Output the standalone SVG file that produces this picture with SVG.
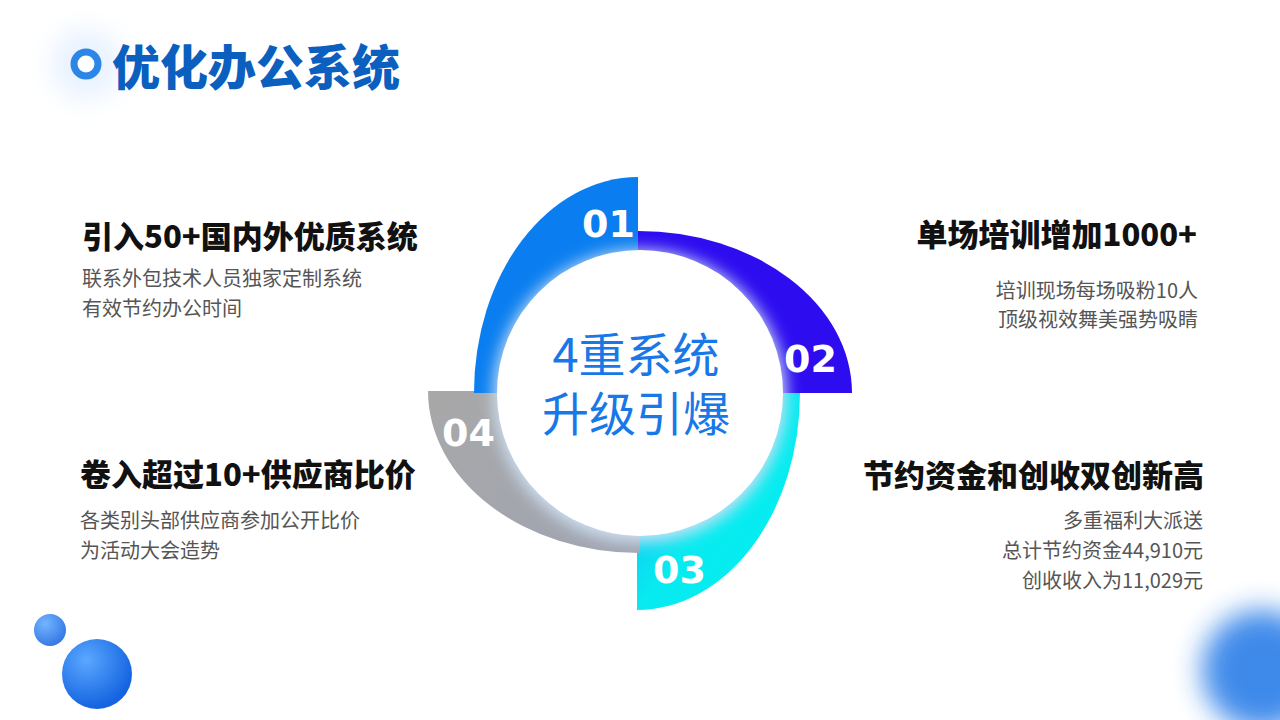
<svg xmlns="http://www.w3.org/2000/svg" width="1280" height="720" viewBox="0 0 1280 720">
<defs>
<style>
.h{font-family:"Noto Sans CJK SC","Noto Sans",sans-serif;font-weight:900;font-size:31px;fill:#111}
.d{font-family:"Noto Sans CJK SC","Noto Sans",sans-serif;font-size:20px;fill:#555}
.n{font-family:"DejaVu Sans","Liberation Sans",sans-serif;font-weight:700;font-size:38px;fill:#fff}
</style>
<linearGradient id="g3" x1="0" y1="0" x2="1" y2="1"><stop offset="0" stop-color="#1aa8f0"/><stop offset="0.5" stop-color="#08eaf0"/><stop offset="1" stop-color="#00f2f0"/></linearGradient>
<linearGradient id="g4" x1="0" y1="0" x2="1" y2="1"><stop offset="0" stop-color="#a8a8a8"/><stop offset="1" stop-color="#a0a4b0"/></linearGradient>
<radialGradient id="bl" cx="0.35" cy="0.3" r="0.7"><stop offset="0" stop-color="#5aa8ff"/><stop offset="1" stop-color="#1463e0"/></radialGradient>
<filter id="sh" x="-30%" y="-30%" width="160%" height="160%"><feGaussianBlur stdDeviation="8"/></filter>
<filter id="blur" x="-50%" y="-50%" width="200%" height="200%"><feGaussianBlur stdDeviation="14"/></filter>
</defs>
<rect width="1280" height="720" fill="#fff"/>
<g id="title">
<circle cx="86" cy="64" r="34" fill="#e6f1ff" filter="url(#blur)"/>
<circle cx="86" cy="64" r="12" fill="#fff" stroke="#2b86e8" stroke-width="7"/>
<text x="112" y="85" font-family="'Noto Sans CJK SC',sans-serif" font-weight="900" font-size="48" fill="#0b5fbf">优化办公系统</text>
</g>
<g id="deco">
<circle cx="50" cy="630" r="16" fill="url(#bl)" opacity="0.85"/>
<circle cx="97" cy="674" r="35" fill="url(#bl)"/>
<circle cx="1262" cy="670" r="60" fill="#2a7ee8" filter="url(#blur)" opacity="0.9"/>
</g>
<g id="ring">
<path id="s02" d="M638,393 L638,231 A214,162 0 0 1 852,393 Z" fill="#2d0cf0"/>
<path id="s03" d="M637,393 L800,393 A163,217 0 0 1 637,610 Z" fill="url(#g3)"/>
<path id="s04" d="M640,391 L640,553 A212,162 0 0 1 428,391 Z" fill="url(#g4)"/>
<path id="s01" d="M638,393 L474,393 A164,216 0 0 1 638,177 Z" fill="#0a7ef0"/>
<circle cx="640" cy="396" r="146" fill="#cfe2f5" filter="url(#sh)"/>
<circle cx="640" cy="393" r="143" fill="#fff"/>
<text class="n" x="582" y="237">01</text>
<text class="n" x="784" y="372">02</text>
<text class="n" x="653" y="583">03</text>
<text class="n" x="442" y="446">04</text>
<text x="636" y="372" text-anchor="middle" font-family="'Noto Sans CJK SC',sans-serif" font-size="47" fill="#1878e8">4重系统</text>
<text x="636" y="431" text-anchor="middle" font-family="'Noto Sans CJK SC',sans-serif" font-size="47" fill="#1878e8">升级引爆</text>
</g>
<g id="n1">
<text class="h" x="82" y="248">引入50+国内外优质系统</text>
<text class="d" x="82" y="286">联系外包技术人员独家定制系统</text>
<text class="d" x="82" y="316">有效节约办公时间</text>
</g>
<g id="n2" text-anchor="end">
<text class="h" x="1197" y="246">单场培训增加1000+</text>
<text class="d" x="1198" y="298">培训现场每场吸粉10人</text>
<text class="d" x="1198" y="327">顶级视效舞美强势吸睛</text>
</g>
<g id="n3">
<text class="h" x="80" y="486">卷入超过10+供应商比价</text>
<text class="d" x="80" y="528">各类别头部供应商参加公开比价</text>
<text class="d" x="80" y="558">为活动大会造势</text>
</g>
<g id="n4" text-anchor="end">
<text class="h" x="1204" y="487">节约资金和创收双创新高</text>
<text class="d" x="1203" y="528">多重福利大派送</text>
<text class="d" x="1203" y="558">总计节约资金44,910元</text>
<text class="d" x="1203" y="588">创收收入为11,029元</text>
</g>
<g id="connectors"/>
</svg>
